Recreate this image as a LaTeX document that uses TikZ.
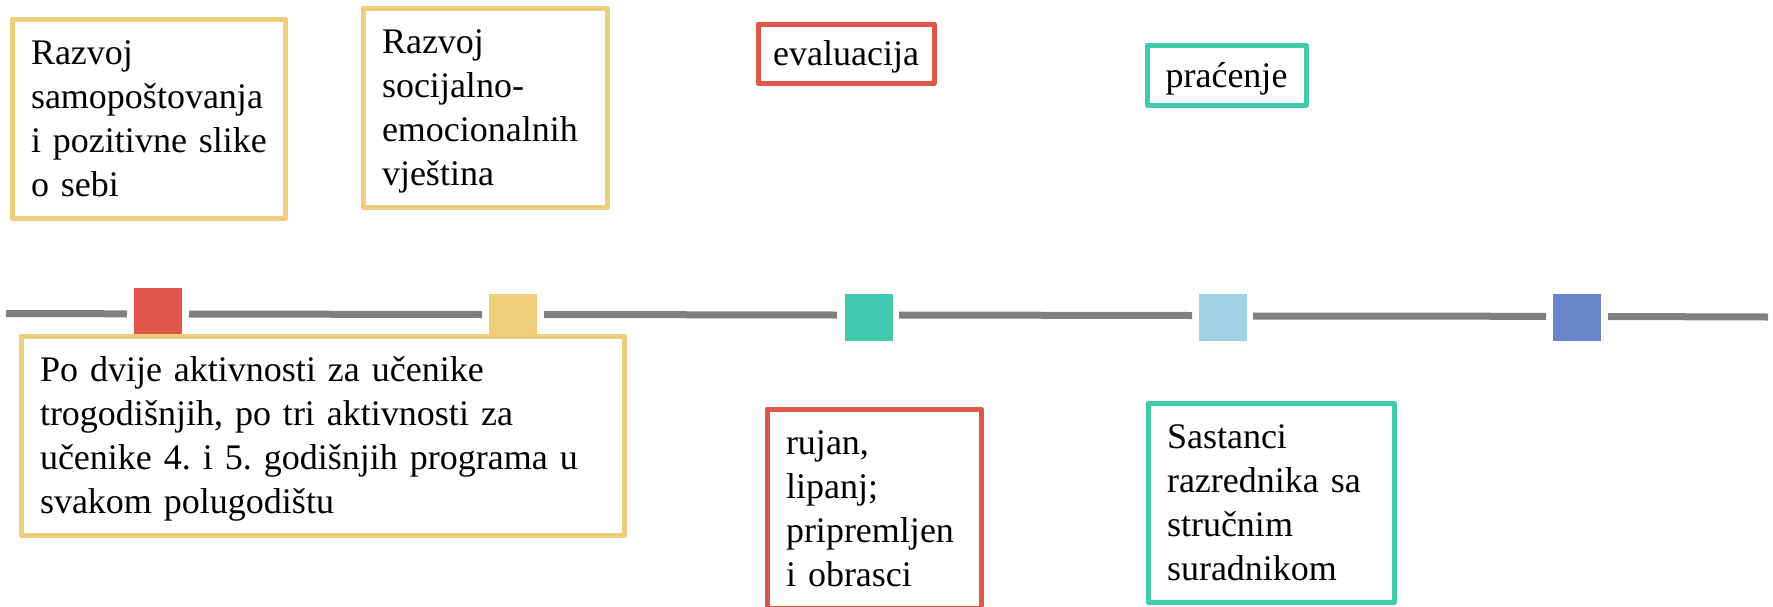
\documentclass[tikz,border=0pt]{standalone}
\usepackage{fontspec}
\setmainfont{Liberation Serif}
\hyphenpenalty=10000
\exhyphenpenalty=10000
\frenchspacing
\hfuzz=200pt
\definecolor{cyell}{HTML}{EFCD7A}
\definecolor{cred}{HTML}{E0574A}
\definecolor{cteal}{HTML}{41CAB0}
\definecolor{clblue}{HTML}{A0D2E6}
\definecolor{cblue}{HTML}{6886CC}
\definecolor{lgray}{HTML}{7F7F7F}
\newcommand{\lastdepth}{\rule[-11pt]{0pt}{11pt}}
\newcommand{\oneline}[1]{\mbox{#1}}
\newcommand{\boxfont}{\fontsize{36}{44}\selectfont}
\tikzset{
  txtbox/.style={draw=#1, line width=5pt, line join=round, fill=white, anchor=north west,
    inner xsep=19pt, inner ysep=10.5pt, align=left, text height=35pt,
    font=\boxfont},
  tagbox/.style={draw=#1, line width=5pt, line join=round, fill=white, anchor=north west,
    inner sep=0pt, align=center, text height=35pt, text depth=11pt,
    font=\boxfont},
  sqnode/.style={fill=#1, draw=none, inner sep=0pt, minimum width=48pt, minimum height=47pt},
  tline/.style={draw=lgray, line width=7pt}
}
\begin{document}
\begin{tikzpicture}[x=1pt,y=-1pt]
\path[use as bounding box, clip] (0,0) rectangle (1773,606);
% timeline coordinates
\coordinate (a1) at (6,313.5);    \coordinate (b1) at (127,313.8);
\coordinate (a2) at (189,314);    \coordinate (b2) at (482,314.5);
\coordinate (a3) at (544,314.5);  \coordinate (b3) at (837,315);
\coordinate (a4) at (899,315);    \coordinate (b4) at (1192,315.5);
\coordinate (a5) at (1253,316);   \coordinate (b5) at (1546,316.3);
\coordinate (a6) at (1608,316.5); \coordinate (b6) at (1768,317);
\draw[tline] (a1) -- (b1);
\draw[tline] (a2) -- (b2);
\draw[tline] (a3) -- (b3);
\draw[tline] (a4) -- (b4);
\draw[tline] (a5) -- (b5);
\draw[tline] (a6) -- (b6);
% squares
\node[sqnode=cred]   (s1) at (158,311.5) {};
\node[sqnode=cyell]  (s2) at (513,317.5) {};
\node[sqnode=cteal]  (s3) at (868.5,317.5) {};
\node[sqnode=clblue] (s4) at (1222.5,317.5) {};
\node[sqnode=cblue]  (s5) at (1576.5,317.5) {};
% upper boxes
\node[txtbox=cyell, text width=235pt] (t1) at (9.5,16.5)
  {\oneline{Razvoj}\\\oneline{samopoštovanja}\\\oneline{i pozitivne slike}\\\oneline{o sebi}\lastdepth};
\node[txtbox=cyell, text width=206pt] (t2) at (360.5,5.5)
  {\oneline{Razvoj}\\\oneline{socijalno-}\\\oneline{emocionalnih}\\\oneline{vještina}\lastdepth};
\node[tagbox=cred, minimum width=176pt, minimum height=59pt] (t3) at (755.5,21.5)
  {evaluacija};
\node[tagbox=cteal, minimum width=159pt, minimum height=60pt] (t4) at (1144.5,42.5)
  {praćenje};
% lower boxes
\node[txtbox=cyell, text width=565pt] (b5box) at (18.5,333.5)
  {\oneline{Po dvije aktivnosti za učenike}\\\oneline{trogodišnjih, po tri aktivnosti za}\\\oneline{učenike 4. i 5. godišnjih programa u}\\\oneline{svakom polugodištu}\lastdepth};
\node[txtbox=cred, text width=176pt] (b6box) at (764.5,406.5)
  {\oneline{rujan,}\\\oneline{lipanj;}\\\oneline{pripremljen}\\\oneline{i obrasci}\lastdepth};
\node[txtbox=cteal, text width=208pt] (b7box) at (1145.5,400.5)
  {\oneline{Sastanci}\\\oneline{razrednika sa}\\\oneline{stručnim}\\\oneline{suradnikom}\lastdepth};
\end{tikzpicture}
\end{document}
